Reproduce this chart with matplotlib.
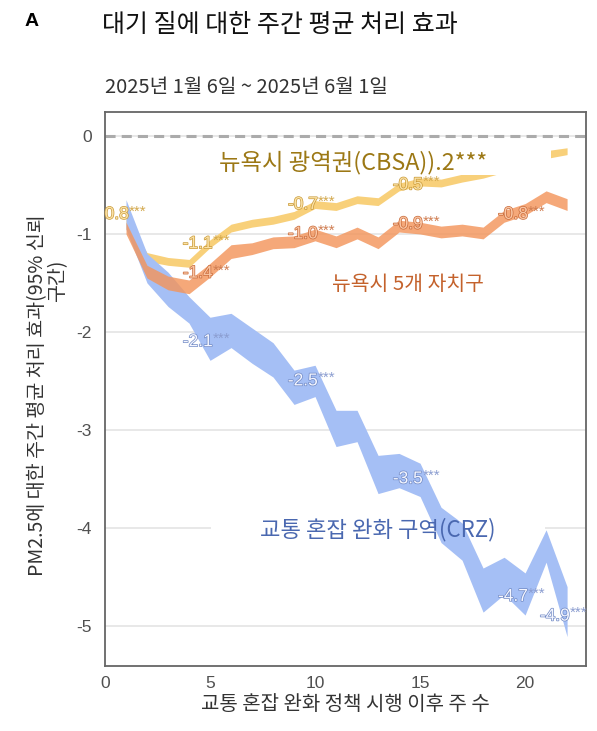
import matplotlib
matplotlib.use("Agg")
import matplotlib.pyplot as plt
import matplotlib.patheffects as pe

plt.rcParams['font.family'] = ['Noto Sans CJK KR', 'DejaVu Sans']
plt.rcParams['axes.unicode_minus'] = False

# ---------- data ----------
weeks = list(range(1, 23))

# congestion relief zone (CRZ), 95% CI
crz_lo = [-0.95, -1.50, -1.74, -1.91, -2.29, -2.16, -2.32, -2.46, -2.74, -2.66, -3.17,
          -3.12, -3.65, -3.59, -3.68, -4.15, -4.33, -4.86, -4.68, -4.89, -4.35, -5.11]
crz_hi = [-0.65, -1.20, -1.39, -1.64, -1.85, -1.81, -1.96, -2.11, -2.39, -2.34, -2.80,
          -2.80, -3.26, -3.24, -3.34, -3.79, -3.95, -4.41, -4.30, -4.46, -4.02, -4.60]

# five boroughs
boro_lo = [-1.00, -1.45, -1.57, -1.61, -1.44, -1.25, -1.21, -1.15, -1.14, -1.07, -1.14,
           -1.05, -1.15, -0.98, -1.00, -1.04, -1.02, -1.05, -0.88, -0.81, -0.68, -0.76]
boro_hi = [-0.88, -1.32, -1.43, -1.47, -1.30, -1.11, -1.09, -1.03, -1.02, -0.95, -1.02,
           -0.93, -1.03, -0.86, -0.88, -0.92, -0.90, -0.93, -0.76, -0.69, -0.56, -0.64]

# NYC metro area (CBSA)
cbsa_lo = [-0.95, -1.28, -1.32, -1.34, -1.14, -0.98, -0.93, -0.90, -0.85, -0.74, -0.76,
           -0.69, -0.71, -0.56, -0.51, -0.52, -0.47, -0.43, -0.37, -0.31, -0.23, -0.19]
cbsa_hi = [-0.85, -1.19, -1.24, -1.26, -1.06, -0.90, -0.85, -0.82, -0.77, -0.66, -0.68,
           -0.61, -0.63, -0.48, -0.43, -0.44, -0.39, -0.35, -0.29, -0.23, -0.15, -0.12]

# point labels
crz_lab_weeks = [5, 10, 15, 20, 22]
crz_lab_vals = [-2.1, -2.5, -3.5, -4.7, -4.9]
crz_lab_text = ["-2.1", "-2.5", "-3.5", "-4.7", "-4.9"]

boro_lab_weeks = [5, 10, 15, 20]
boro_lab_vals = [-1.4, -1.0, -0.9, -0.8]
boro_lab_text = ["-1.4", "-1.0", "-0.9", "-0.8"]

cbsa_lab_weeks = [1, 5, 10, 15]
cbsa_lab_vals = [-0.8, -1.1, -0.7, -0.5]
cbsa_lab_text = ["0.8", "-1.1", "-0.7", "-0.5"]

xticks = [0, 5, 10, 15, 20]
yticks = [0, -1, -2, -3, -4, -5]

# ---------- figure ----------
W, H = 597, 731
fig = plt.figure(figsize=(W / 100, H / 100), dpi=100)
ax = fig.add_axes([105 / W, 1 - 666 / H, 481 / W, 554 / H])

ax.set_xlim(0, 22.9)
ax.set_ylim(-5.41, 0.245)

ax.fill_between(weeks, cbsa_lo, cbsa_hi, color="#f8d07a", lw=0, zorder=2)
ax.fill_between(weeks, crz_lo, crz_hi, color="#a5bff5", lw=0, zorder=3)
ax.fill_between(weeks, boro_lo, boro_hi, color="#f3955c", alpha=0.82, lw=0, zorder=4)

ax.axhline(0, color="#ababab", lw=2.2, dashes=(3.3, 2.0), zorder=1.8)

ax.set_axisbelow(True)
ax.yaxis.grid(True, color="#e4e4e4", lw=1.2)
ax.set_xticks(xticks)
ax.set_yticks(yticks)
ax.tick_params(axis="both", length=0, labelsize=12.5, labelcolor="#505050")
ax.tick_params(axis="y", pad=9.5)
ax.tick_params(axis="x", pad=7)
for lab in ax.get_xticklabels() + ax.get_yticklabels():
    lab.set_family("Liberation Sans")
for s in ax.spines.values():
    s.set_color("#666666")
    s.set_linewidth(1.3)


def val_label(x, y, num, fill, edge, star_col):
    ax.annotate(num, (x, y), xytext=(2, 0), textcoords="offset points",
                ha="right", va="center", fontsize=12.5, family="Liberation Sans",
                color=fill, zorder=6, annotation_clip=False,
                path_effects=[pe.withStroke(linewidth=1.0, foreground=edge)])
    t = ax.annotate("***", (x, y), xytext=(2, 2), textcoords="offset points",
                    ha="left", va="center", fontsize=11, family="Liberation Sans",
                    color=star_col, zorder=6, annotation_clip=False)
    t.set_clip_on(True)


for x, y, s in zip(crz_lab_weeks, crz_lab_vals, crz_lab_text):
    val_label(x, y, s, "#f4f6ff", "#7089c4", "#8b9dd0")
for x, y, s in zip(boro_lab_weeks, boro_lab_vals, boro_lab_text):
    val_label(x, y, s, "#fac6a4", "#c86a3a", "#cf7c50")
for x, y, s in zip(cbsa_lab_weeks, cbsa_lab_vals, cbsa_lab_text):
    val_label(x, y, s, "#fbe2a6", "#c99a3a", "#d3a84c")

# original -0.2 label, masked by the series label box
ax.text(19.7, -0.25, "-0.2***", fontsize=12.5, family="Liberation Sans", color="white",
        ha="center", va="center", zorder=7,
        bbox=dict(facecolor="white", edgecolor="none", pad=5))

# series labels
ax.text(11.8, -0.27, "뉴욕시 광역권(CBSA)).2***", color="#9c7815", fontsize=16.8,
        ha="center", va="center", zorder=8,
        bbox=dict(facecolor="white", edgecolor="none", pad=0.5))
ax.text(14.4, -1.52, "뉴욕시 5개 자치구", color="#c4622c", fontsize=14.7,
        ha="center", va="center", zorder=8,
        bbox=dict(facecolor="white", edgecolor="none", pad=2))
# box under the CRZ label hides the gridline but sits below the bands
ax.text(13.0, -4.02, "교통 혼잡 완화 구역(CRZ)", color="none", fontsize=16,
        ha="center", va="center", zorder=1.5,
        bbox=dict(boxstyle="square,pad=2.2", facecolor="white", edgecolor="none"))
ax.text(13.0, -4.02, "교통 혼잡 완화 구역(CRZ)", color="#4a68b0", fontsize=16,
        ha="center", va="center", zorder=8)

ax.set_xlabel("교통 혼잡 완화 정책 시행 이후 주 수", fontsize=14.4, color="#333333",
              labelpad=2)

fig.text(38 / W, 1 - 395 / H, "PM2.5에 대한 주간 평균 처리 효과(95% 신뢰", rotation=90,
         ha="center", va="center", fontsize=14.1, color="#333333")
fig.text(58 / W, 1 - 281 / H, "구간)", rotation=90,
         ha="center", va="center", fontsize=14, color="#333333")

fig.text(25 / W, 1 - 22 / H, "A", fontsize=14, fontweight="bold", va="center",
         family="Liberation Sans")
fig.text(102 / W, 1 - 25 / H, "대기 질에 대한 주간 평균 처리 효과", fontsize=18,
         va="center", color="#111111")
fig.text(105 / W, 1 - 87 / H, "2025년 1월 6일 ~ 2025년 6월 1일", fontsize=14.5,
         va="center", color="#333333")

fig.savefig("out.png", dpi=100)
